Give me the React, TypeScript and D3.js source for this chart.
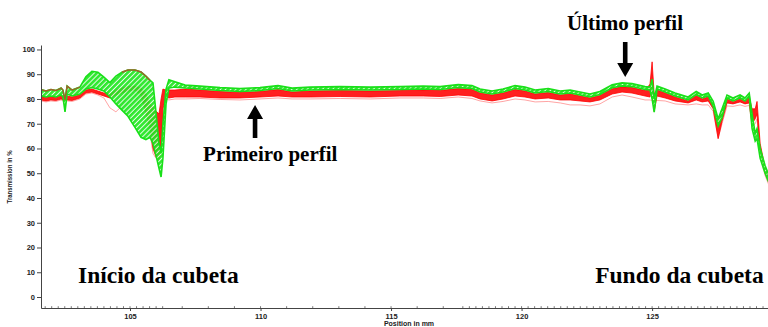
import { useEffect, useRef } from 'react';
import * as d3 from 'd3';

// sample positions along the cuvette (mm)
const positions = [
  101.59, 101.78, 101.97, 102.16, 102.36, 102.43, 102.51, 102.59, 102.78, 103.08,
  103.31, 103.54, 103.77, 104.0, 104.23, 104.46, 104.69, 104.92, 105.19, 105.42,
  105.61, 105.77, 105.88, 106.0, 106.11, 106.19, 106.26, 106.38, 106.49, 106.72,
  107.11, 107.68, 108.45, 109.21, 109.98, 110.67, 111.21, 111.9, 113.05, 114.2,
  115.34, 116.23, 116.88, 117.57, 118.1, 118.41, 118.87, 119.29, 119.75, 120.13,
  120.52, 121.02, 121.48, 121.86, 122.24, 122.62, 123.0, 123.47, 123.85, 124.23,
  124.73, 124.92, 125.0, 125.08, 125.19, 125.5, 125.88, 126.38, 126.69, 126.92,
  127.15, 127.34, 127.53, 127.68, 127.87, 128.1, 128.37, 128.56, 128.72, 128.83,
  128.95, 129.02, 129.14, 129.33, 129.52,
];

// last profiles (green), upper and lower envelope, transmission %
const greenUpper = [
  83.8, 83.2, 83.8, 83.4, 84.4, 83.6, 79.6, 85.2, 83.6, 84.8,
  89.0, 91.2, 90.8, 88.8, 86.6, 89.2, 90.8, 91.7, 91.7, 90.9,
  89.2, 87.5, 86.5, 74.0, 62.0, 58.0, 70.0, 84.0, 87.8, 87.0,
  85.6, 85.2, 84.6, 84.2, 84.6, 85.4, 84.4, 84.8, 85.0, 84.8,
  85.0, 85.2, 85.0, 85.8, 85.4, 84.0, 83.2, 84.0, 85.4, 84.8,
  83.6, 84.2, 83.2, 83.6, 82.8, 82.0, 83.0, 85.7, 86.5, 86.2,
  85.0, 84.8, 88.0, 80.0, 85.2, 84.0, 82.4, 80.8, 83.0, 81.6,
  82.4, 79.0, 72.0, 76.0, 81.6, 80.4, 81.6, 80.4, 82.4, 74.0,
  66.0, 68.0, 60.0, 53.0, 48.0,
];
const greenLower = [
  81.2, 80.8, 81.2, 80.8, 81.6, 80.8, 74.8, 82.0, 81.2, 82.0,
  84.0, 84.6, 84.0, 83.2, 80.8, 78.0, 75.5, 73.0, 68.5, 64.5,
  63.6, 64.5, 62.0, 57.0, 52.0, 48.5, 56.0, 78.0, 84.4, 84.8,
  84.4, 84.0, 83.4, 83.0, 83.4, 84.2, 83.2, 83.6, 83.8, 83.6,
  83.8, 84.0, 83.8, 84.6, 84.2, 82.8, 82.0, 82.8, 84.2, 83.6,
  82.4, 83.0, 82.0, 82.4, 81.6, 80.8, 81.8, 84.5, 85.3, 85.0,
  83.8, 83.6, 80.0, 74.7, 84.0, 82.8, 81.2, 79.6, 81.8, 80.4,
  81.2, 77.0, 69.0, 72.5, 80.4, 79.2, 80.4, 79.2, 81.2, 68.0,
  63.0, 64.0, 56.0, 50.0, 45.0,
];

// first profiles (red), upper and lower envelope
const redUpper = [
  81.0, 80.6, 81.0, 80.6, 81.4, 81.0, 80.4, 81.2, 80.8, 81.6,
  83.6, 84.0, 83.2, 82.4, 82.0, 83.6, 84.4, 85.0, 85.2, 84.4,
  82.0, 78.0, 76.8, 75.0, 74.0, 80.0, 84.0, 83.6, 83.6, 83.6,
  84.0, 83.6, 83.0, 82.6, 83.0, 83.8, 82.8, 83.2, 83.4, 83.2,
  83.4, 83.6, 83.4, 84.2, 83.8, 82.4, 81.6, 82.4, 83.8, 83.2,
  82.0, 82.6, 81.6, 82.0, 81.2, 80.4, 81.4, 84.1, 84.9, 84.6,
  83.4, 86.0, 95.0, 82.0, 83.6, 82.4, 80.8, 79.2, 81.4, 80.0,
  80.8, 78.0, 70.0, 76.0, 80.0, 78.8, 80.0, 78.8, 80.8, 76.0,
  76.0, 79.0, 62.0, 52.0, 47.0,
];
const redLower = [
  79.6, 79.2, 79.6, 79.4, 80.0, 79.6, 79.2, 79.6, 79.4, 80.4,
  82.4, 82.8, 82.0, 81.2, 80.4, 81.6, 82.4, 83.2, 83.6, 81.6,
  74.0, 68.0, 60.0, 56.5, 55.4, 60.0, 76.0, 80.8, 80.4, 80.8,
  80.8, 80.8, 80.4, 80.4, 80.8, 81.2, 80.8, 80.8, 81.0, 80.8,
  81.2, 81.2, 81.0, 81.6, 81.2, 80.0, 79.2, 80.0, 81.2, 80.8,
  80.0, 80.4, 79.6, 79.6, 79.2, 78.8, 79.6, 82.0, 82.8, 82.4,
  81.2, 80.8, 86.0, 75.0, 81.2, 80.4, 79.2, 78.4, 79.6, 78.8,
  79.2, 76.0, 64.0, 71.0, 78.4, 78.0, 78.8, 78.0, 78.4, 70.0,
  72.0, 74.0, 58.0, 50.0, 45.0,
];
// faint lowest early profile
const paleLower = [
  79.2, 78.8, 79.2, 79.0, 79.6, 79.2, 78.8, 79.2, 79.0, 80.0,
  82.0, 82.4, 81.6, 80.4, 76.4, 74.8, 77.2, 84.0, 82.0, 76.0,
  71.0, 66.0, 58.0, 56.0, 55.0, 58.0, 74.0, 80.0, 79.6, 80.0,
  80.0, 80.2, 79.8, 79.6, 80.0, 80.4, 80.0, 80.0, 80.2, 80.0,
  80.4, 80.4, 80.2, 80.8, 80.2, 79.2, 78.4, 79.0, 80.0, 79.6,
  78.8, 79.0, 78.4, 77.6, 77.6, 77.2, 78.0, 80.8, 81.6, 80.8,
  79.6, 79.6, 79.4, 79.2, 79.4, 79.2, 78.0, 77.6, 78.0, 77.6,
  77.6, 75.0, 64.0, 70.0, 77.2, 77.0, 77.6, 77.0, 77.4, 69.0,
  70.0, 72.0, 57.0, 49.0, 44.0,
];

// stretches where overlapping profiles give a brown top edge
const brownSpans = [[101.5, 103.1], [104.6, 105.8]];

const yTicks = [0, 10, 20, 30, 40, 50, 60, 70, 80, 90, 100];
const xTicks = [105, 110, 115, 120, 125];

export default function App() {
  const svgRef = useRef(null);
  const width = 768;
  const height = 327;

  useEffect(() => {
    const svg = d3.select(svgRef.current);
    svg.selectAll('*').remove();

    const left = 41, right = 768, top = 45, bottom = 308;
    const x = d3.scaleLinear().domain([101.59, 129.44]).range([left, right]);
    const y = d3.scaleLinear().domain([-4.44, 101.8]).range([bottom, top]);

    const rows = positions.map((p, i) => ({
      p, gu: greenUpper[i], gl: greenLower[i], ru: redUpper[i], rl: redLower[i], pl: paleLower[i]
    }));

    const defs = svg.append('defs');
    defs.append('clipPath').attr('id', 'plot')
      .append('rect').attr('x', left).attr('y', top).attr('width', right - left).attr('height', bottom - top);

    const hatch = defs.append('pattern')
      .attr('id', 'greenHatch')
      .attr('patternUnits', 'userSpaceOnUse')
      .attr('width', 3.6).attr('height', 4)
      .attr('patternTransform', 'rotate(45)');
    hatch.append('rect').attr('width', 3.6).attr('height', 4).attr('fill', '#e6fbe6');
    hatch.append('rect').attr('width', 2.6).attr('height', 4).attr('fill', '#1ee61e');

    const g = svg.append('g').attr('clip-path', 'url(#plot)');

    const line = (key) => d3.line().x(d => x(d.p)).y(d => y(d[key]));

    g.append('path')
      .datum(rows)
      .attr('d', line('pl'))
      .attr('fill', 'none')
      .attr('stroke', '#ff9a9a')
      .attr('stroke-width', 0.9);

    g.append('path')
      .datum(rows)
      .attr('d', d3.area().x(d => x(d.p)).y0(d => y(d.rl)).y1(d => y(d.ru)))
      .attr('fill', '#ff2020')
      .attr('stroke', '#ff0000')
      .attr('stroke-width', 0.8);

    g.append('path')
      .datum(rows)
      .attr('d', d3.area().x(d => x(d.p)).y0(d => y(d.gl)).y1(d => y(d.gu)))
      .attr('fill', 'url(#greenHatch)')
      .attr('fill-opacity', 0.92);

    ['gu', 'gl'].forEach(k => {
      g.append('path')
        .datum(rows)
        .attr('d', line(k))
        .attr('fill', 'none')
        .attr('stroke', '#19e019')
        .attr('stroke-width', 1.6);
    });

    brownSpans.forEach(([a, b]) => {
      g.append('path')
        .datum(rows.filter(d => d.p >= a && d.p <= b))
        .attr('d', line('gu'))
        .attr('fill', 'none')
        .attr('stroke', '#a0602a')
        .attr('stroke-width', 1.4);
    });

    // axes
    const tickFont = '"Liberation Sans", Arial, sans-serif';
    const yAxis = svg.append('g')
      .attr('transform', `translate(${left},0)`)
      .call(d3.axisLeft(y).tickValues(yTicks).tickSize(4).tickSizeOuter(0).tickPadding(2));
    yAxis.selectAll('text')
      .attr('fill', '#222')
      .style('font-family', tickFont)
      .style('font-weight', 'bold')
      .style('font-size', '7.5px');

    const xAxis = svg.append('g')
      .attr('transform', `translate(0,${bottom})`)
      .call(d3.axisBottom(x).tickValues(xTicks).tickSize(3).tickSizeOuter(0).tickPadding(3));
    xAxis.selectAll('text')
      .attr('fill', '#222')
      .style('font-family', tickFont)
      .style('font-weight', 'bold')
      .style('font-size', '7.5px');

    svg.selectAll('.domain, .tick line').attr('stroke', '#444');

    const minor = [
      ...d3.range(101.75, 106.5, 0.25),
      ...d3.range(107, 118, 1),
      ...d3.range(117.75, 129.5, 0.25),
    ];
    svg.append('g')
      .selectAll('line')
      .data(minor)
      .join('line')
      .attr('x1', d => x(d)).attr('x2', d => x(d))
      .attr('y1', bottom).attr('y2', bottom - 1.8)
      .attr('stroke', '#555')
      .attr('stroke-width', 0.8);

    svg.append('text')
      .attr('transform', `translate(12,${y(48.5)}) rotate(-90)`)
      .attr('text-anchor', 'middle')
      .attr('fill', '#222')
      .attr('textLength', 53)
      .attr('lengthAdjust', 'spacingAndGlyphs')
      .style('font-family', tickFont)
      .style('font-weight', 'bold')
      .style('font-size', '6.5px')
      .text('Transmission in %');

    svg.append('text')
      .attr('x', 409)
      .attr('y', 326)
      .attr('text-anchor', 'middle')
      .attr('fill', '#222')
      .style('font-family', tickFont)
      .style('font-weight', 'bold')
      .style('font-size', '7px')
      .text('Position in mm');

    // annotations
    const serif = '"Liberation Serif", "Times New Roman", serif';
    const labels = [
      { text: 'Primeiro perfil', p: 107.8, v: 55.0, size: 21 },
      { text: 'Último perfil', p: 121.74, v: 107.9, size: 21 },
      { text: 'Início da cubeta', p: 103.01, v: 5.66, size: 23.5 },
      { text: 'Fundo da cubeta', p: 122.82, v: 5.66, size: 23.5 },
    ];
    svg.append('g')
      .selectAll('text')
      .data(labels)
      .join('text')
      .attr('x', d => x(d.p))
      .attr('y', d => y(d.v))
      .attr('fill', '#000')
      .style('font-family', serif)
      .style('font-weight', 'bold')
      .style('font-size', d => `${d.size}px`)
      .text(d => d.text);

    const arrows = [
      { p: 109.79, tip: 77.6, tail: 64.2 },
      { p: 123.97, tip: 88.9, tail: 103.0 },
    ];
    arrows.forEach(a => {
      const cx = x(a.p);
      const ty = y(a.tip);
      const sy = y(a.tail);
      const dir = sy > ty ? 1 : -1;
      const headLen = 14;
      const hb = ty + dir * headLen;
      const path = d3.path();
      path.moveTo(cx, ty);
      path.lineTo(cx + 8, hb);
      path.lineTo(cx + 2.3, hb);
      path.lineTo(cx + 2.3, sy);
      path.lineTo(cx - 2.3, sy);
      path.lineTo(cx - 2.3, hb);
      path.lineTo(cx - 8, hb);
      path.closePath();
      svg.append('path').attr('d', path.toString()).attr('fill', '#000');
    });
  }, []);

  return (
    <div style={{ position: 'fixed', left: 0, top: 0, background: '#fff' }}>
      <svg ref={svgRef} width={width} height={height}></svg>
    </div>
  );
}
